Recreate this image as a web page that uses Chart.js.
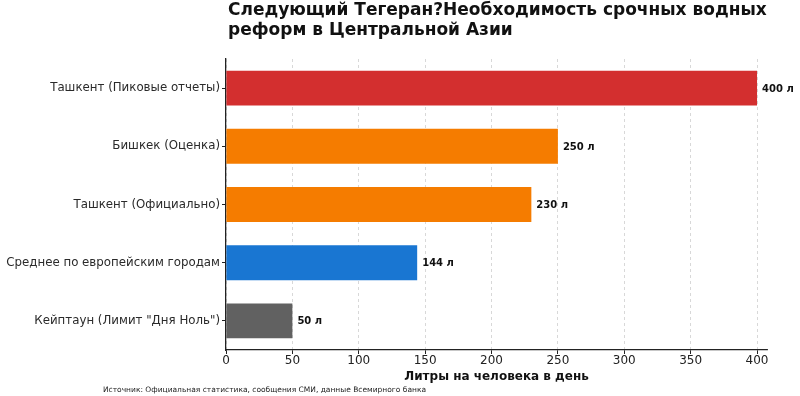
<!DOCTYPE html>
<html>
<head>
<meta charset="utf-8">
<script src="https://cdn.jsdelivr.net/npm/chart.js@4/dist/chart.umd.min.js"></script>
<style>
  html, body { margin: 0; padding: 0; background: #fff; }
  #wrap { position: relative; width: 800px; height: 396px; }
</style>
</head>
<body>
<div id="wrap"><canvas id="chart" width="800" height="396"></canvas></div>
<script>
const titleLines = ["Следующий Тегеран?Необходимость срочных водных", "реформ в Центральной Азии"];
const categories = [
    "Ташкент (Пиковые отчеты)",
    "Бишкек (Оценка)",
    "Ташкент (Официально)",
    "Среднее по европейским городам",
    "Кейптаун (Лимит \"Дня Ноль\")"
];
const litres = [400, 250, 230, 144, 50];
const barColors = ["#d32f2f", "#f57c00", "#f57c00", "#1976d2", "#616161"];
const xTicks = [0, 50, 100, 150, 200, 250, 300, 350, 400];
const xTitle = "Литры на человека в день";
const sourceNote = "Источник: Официальная статистика, сообщения СМИ, данные Всемирного банка";

const font = "'DejaVu Sans', sans-serif";

// title above the plot, aligned to its left edge, plus source line and value labels
const extrasPlugin = {
    id: "extras",
    afterDraw(chart) {
        const ctx = chart.ctx;
        const area = chart.chartArea;
        ctx.save();
        ctx.fillStyle = "#111";
        ctx.textBaseline = "middle";
        ctx.textAlign = "left";
        ctx.font = "bold 17px " + font;
        titleLines.forEach((line, i) => ctx.fillText(line, area.left + 2, 11 + i * 20));

        ctx.font = "7.5px " + font;
        ctx.fillStyle = "#222";
        ctx.fillText(sourceNote, 103, 390);

        ctx.font = "bold 10px " + font;
        ctx.fillStyle = "#111";
        const meta = chart.getDatasetMeta(0);
        meta.data.forEach((bar, i) => {
            ctx.fillText(litres[i] + " л", bar.x + 5, bar.y + 1);
        });
        ctx.restore();
    }
};

new Chart(document.getElementById("chart"), {
    type: "bar",
    data: {
        labels: categories,
        datasets: [{
            data: litres,
            backgroundColor: barColors,
            borderWidth: 0,
            categoryPercentage: 1,
            barPercentage: 0.6
        }]
    },
    options: {
        indexAxis: "y",
        responsive: false,
        animation: false,
        layout: { padding: { top: 59, right: 33, bottom: 12, left: 0 } },
        plugins: {
            legend: { display: false },
            tooltip: { enabled: false }
        },
        scales: {
            x: {
                min: 0,
                max: 407.5,
                afterBuildTicks(scale) {
                    scale.ticks = xTicks.map(v => ({ value: v }));
                },
                afterFit(scale) { scale.height = 34; },
                grid: {
                    color: "#cfcfcf",
                    lineWidth: 0.8,
                    tickColor: "#222",
                    tickLength: 4,
                    tickWidth: 1
                },
                border: { color: "#222", width: 1.3, dash: [3, 3] },
                ticks: { color: "#222", font: { family: font, size: 12 }, padding: 0, maxRotation: 0 },
                title: {
                    display: true,
                    text: xTitle,
                    color: "#111",
                    font: { family: font, size: 12, weight: "bold" },
                    padding: { top: 0, bottom: 0 }
                }
            },
            y: {
                afterFit(scale) { scale.width = 226; },
                grid: {
                    drawOnChartArea: false,
                    offset: false,
                    tickColor: "#222",
                    tickLength: 4
                },
                border: { color: "#222", width: 1.3 },
                ticks: { color: "#2a2a2a", font: { family: font, size: 11.8 }, padding: 2 }
            }
        }
    },
    plugins: [extrasPlugin]
});
</script>
</body>
</html>
